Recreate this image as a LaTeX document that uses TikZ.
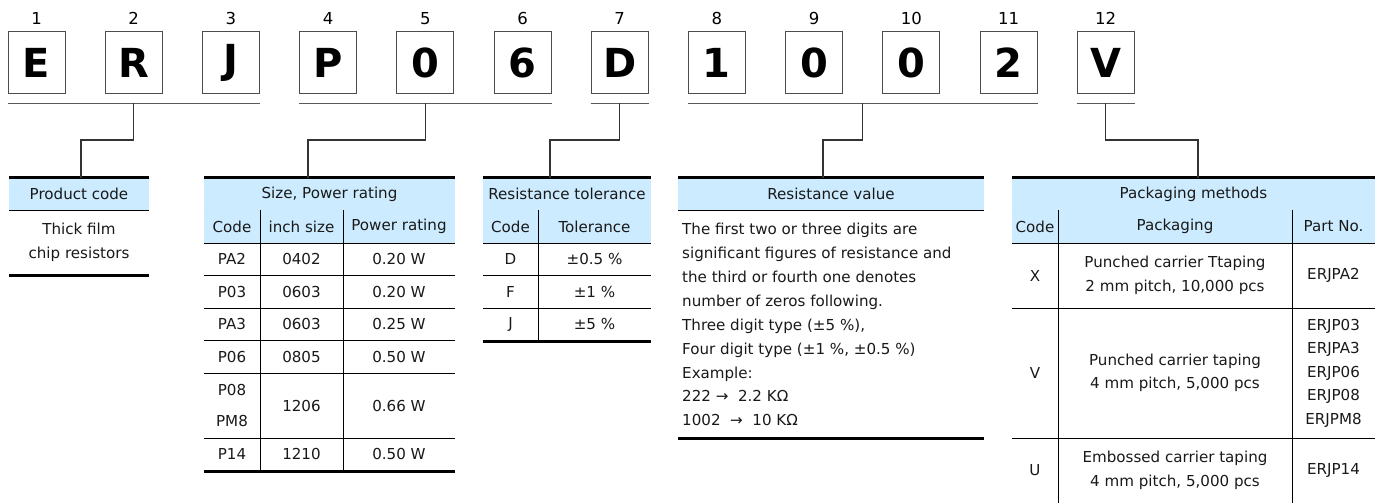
\documentclass[tikz,border=0pt]{standalone}
\usepackage{fontspec}
\setmainfont{DejaVu Sans}
\usetikzlibrary{positioning}
\definecolor{headblue}{RGB}{204,235,255}

\begin{document}
\begin{tikzpicture}[x=1pt, y=-1pt, font=\fontsize{15.1}{23.5}\selectfont, text=black!90]
	\tikzstyle{letter} = [draw=black!70, line width=1pt, minimum width=57pt, minimum height=61pt, inner sep=0pt, text=black, font=\fontsize{40}{40}\selectfont\bfseries]
	\tikzstyle{digitno} = [inner sep=0pt, text=black, font=\fontsize{16.5}{18}\selectfont]
	\tikzstyle{head}   = [fill=headblue, minimum height=32pt, inner sep=0pt]
	\tikzstyle{cell}   = [inner sep=0pt, align=center]
	\tikzstyle{grp}    = [draw=black!65, line width=1pt]
	\tikzstyle{link}   = [draw=black!80, line width=1.3pt]
	\tikzstyle{rule}   = [draw=black, line width=1pt]
	\tikzstyle{heavy}  = [draw=black, line width=3pt]

	\useasboundingbox (0,0) rectangle (1378,503);
%	\draw[step=50, gray!30] (0,0) grid (1378,503);

	% part number
	\foreach \i/\lett in {1/E,2/R,3/J,4/P,5/0,6/6,7/D,8/1,9/0,10/0,11/2,12/V} {
		\node[letter] (b\i) at ({36.5+97.2*(\i-1)}, 62.5) {\lett};
		\node[digitno, above=7pt of b\i] (n\i) {\i};
	}

	\foreach \a/\b/\g in {1/3/1, 4/6/2, 7/7/3, 8/11/4, 12/12/5}
		\draw[grp] ([yshift=-9.5pt]b\a.south west) -- coordinate[pos=0.5] (g\g) ([yshift=-9.5pt]b\b.south east);

	% table heads
	\foreach \h/\x/\w/\txt in {1/79/140/Product code, 2/329.5/251/{Size, Power rating}, 3/567/168/Resistance tolerance, 4/831/306/Resistance value, 5/1193.5/363/Packaging methods} {
		\node[head, minimum width=\w pt] (h\h) at (\x,194) {\txt};
		\draw[rule] (h\h.south west) -- (h\h.south east);
		\draw[heavy] (h\h.north west) -- (h\h.north east);
	}

	\foreach \g/\dx in {1/2, 2/-21.5, 3/-17, 4/-8, 5/4.5}
		\draw[link] (g\g) -- ++(0,37) -| ([xshift=\dx pt]h\g.north);

	% product code
	\node[cell] (p1) at (79,242.5) {Thick film\\chip resistors};
	\draw[heavy] (9,275.5) -- (149,275.5);

	% size, power rating
	\fill[headblue] (204,210) rectangle (455,243);
	\foreach \x/\txt [count=\k] in {232/Code, 301.5/inch size, 399/Power rating}
		\node[cell] (s2-\k) at (\x,226.5) {\txt};
	\foreach \y/\code/\inch/\watt [count=\k] in {259.25/PA2/0402/0.20 W, 291.75/P03/0603/0.20 W, 324.25/PA3/0603/0.25 W, 356.75/P06/0805/0.50 W, 454.25/P14/1210/0.50 W} {
		\node[cell] (t2-\k-1) at (232,\y) {\code};
		\node[cell] (t2-\k-2) at (301.5,\y) {\inch};
		\node[cell] (t2-\k-3) at (399,\y) {\watt};
	}
	\node[cell, font=\fontsize{15.1}{31}\selectfont] (t2-m-1) at (232,405.5) {P08\\PM8};
	\node[cell] (t2-m-2) at (301.5,405.5) {1206};
	\node[cell] (t2-m-3) at (399,405.5) {0.66 W};
	\foreach \y in {243,275.5,308,340.5,373,438}
		\draw[rule] (204,\y) -- (455,\y);
	\draw[rule] (260,210) -- (260,470.5);
	\draw[rule] (343,210) -- (343,470.5);
	\draw[heavy] (204,471) -- (455,471);

	% resistance tolerance
	\fill[headblue] (483,210) rectangle (651,243);
	\node[cell] (s3-1) at (510.5,226.5) {Code};
	\node[cell] (s3-2) at (594.5,226.5) {Tolerance};
	\foreach \y/\code/\tol [count=\k] in {259.25/D/±0.5 \%, 291.75/F/±1 \%, 324.25/J/±5 \%} {
		\node[cell] (t3-\k-1) at (510.5,\y) {\code};
		\node[cell] (t3-\k-2) at (594.5,\y) {\tol};
	}
	\foreach \y in {243,275.5,308}
		\draw[rule] (483,\y) -- (651,\y);
	\draw[rule] (538,210) -- (538,340.5);
	\draw[heavy] (483,341.5) -- (651,341.5);

	% resistance value
	\node[cell, align=left, anchor=north west, font=\fontsize{15.1}{23.9}\selectfont] (p4) at (682,223)
		{The first two or three digits are\\significant figures of resistance and\\the third or fourth one denotes\\number of zeros following.\\Three digit type (±5 \%),\\Four digit type (±1 \%, ±0.5 \%)\\Example:\\222 → \ 2.2 KΩ\\1002 \ → \ 10 KΩ};
	\draw[heavy] (678,438.5) -- (984,438.5);

	% packaging methods
	\fill[headblue] (1012,210) rectangle (1375,243);
	\foreach \x/\txt [count=\k] in {1035/Code, 1175/Packaging, 1333.5/Part No.}
		\node[cell] (s5-\k) at (\x,226.5) {\txt};
	\foreach \y/\code/\pack/\part [count=\k] in {275.5/X/{Punched carrier Ttaping\\2 mm pitch, 10,000 pcs}/ERJPA2, 373/V/{Punched carrier taping\\4 mm pitch, 5,000 pcs}/{\fontsize{15.1}{24}\selectfont ERJP03\\ERJPA3\\ERJP06\\ERJP08\\ERJPM8}, 470.5/U/{Embossed carrier taping\\4 mm pitch, 5,000 pcs}/ERJP14} {
		\node[cell] (t5-\k-1) at (1035,\y) {\code};
		\node[cell] (t5-\k-2) at (1175,\y) {\pack};
		\node[cell] (t5-\k-3) at (1333.5,\y) {\part};
	}
	\foreach \y in {243,308,438}
		\draw[rule] (1012,\y) -- (1375,\y);
	\draw[rule] (1058,210) -- (1058,503);
	\draw[rule] (1292,210) -- (1292,503);

\end{tikzpicture}
\end{document}
